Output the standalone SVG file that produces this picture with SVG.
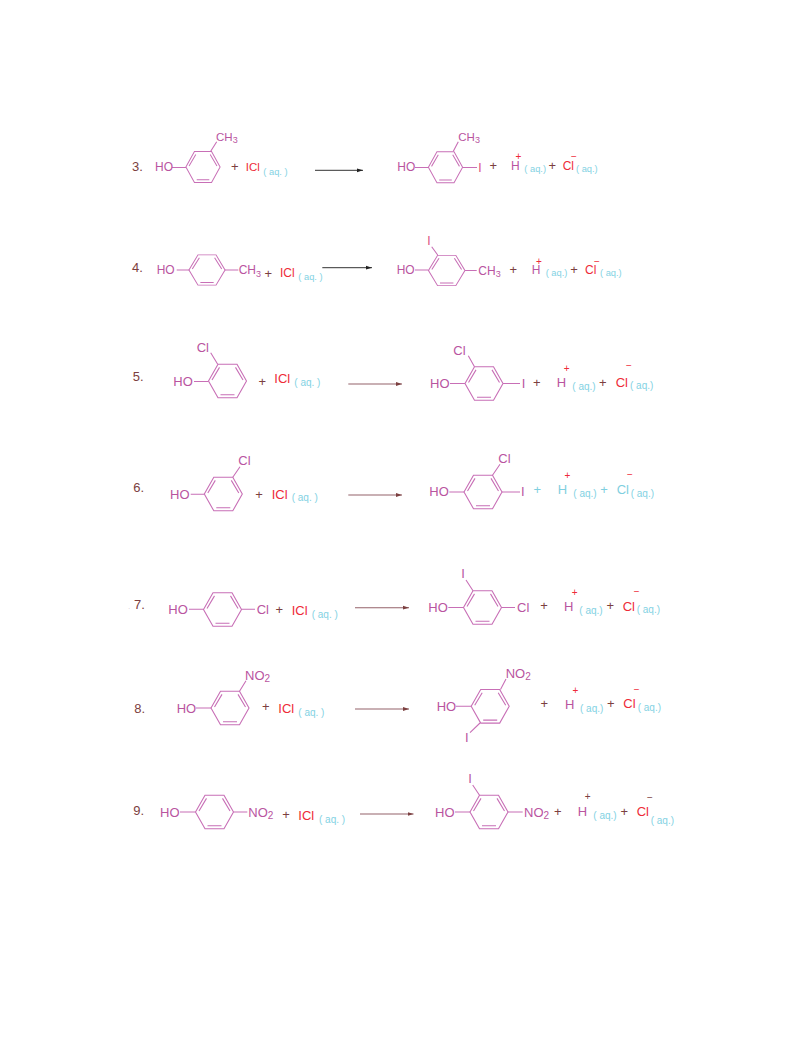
<svg xmlns="http://www.w3.org/2000/svg" xmlns:xlink="http://www.w3.org/1999/xlink" width="793" height="1057" viewBox="0 0 793 1057">
<style>
text{font-family:"Liberation Sans",Arial,sans-serif;font-size:13px;fill:#b9549f;transform:translateY(-.5px)}
.n{fill:#7c4040;font-size:13px}
.p{fill:#7c4040;font-size:13px;text-anchor:middle}
.r{fill:#ee2b38}
.aq{fill:#83d2e3;font-size:10px}
.aqs{font-size:9.3px}
.c{fill:#7fcfe0}
.sp{fill:#ee2b38;font-size:10px;text-anchor:middle}
.sd{fill:#7c4040;font-size:10px;text-anchor:middle}
.s{font-size:9px}
.s2{font-size:10px}
.b{stroke:#c86fb6;stroke-width:1.1;fill:none}
.ring{stroke:#c86fb6;stroke-width:1.1;fill:none}
.a{stroke:#94626a;stroke-width:1.1;fill:none;marker-end:url(#ah)}
.k{stroke:#333;stroke-width:1;marker-end:url(#ak)}
</style>
<defs>
<marker id="ah" markerUnits="userSpaceOnUse" markerWidth="7" markerHeight="5" refX="6" refY="2.5" orient="auto"><path d="M0 .6L6 2.5L0 4.4z" fill="#7c4040"/></marker>
<marker id="ak" markerUnits="userSpaceOnUse" markerWidth="7" markerHeight="5" refX="6" refY="2.5" orient="auto"><path d="M0 .6L6 2.5L0 4.4z" fill="#222"/></marker>
<g id="ring"><path class="ring" d="M-19 0L-9.5-16.8H9.5L19 0L9.5 16.8H-9.5ZM-15.5-1L-8-13.6M8-13.6L15.5-1M-7 13.8H7"/></g>
</defs>
<rect width="793" height="1057" fill="#fff"/>

<g id="connectors">
<line class="a k" x1="315" y1="170.3" x2="363" y2="170.3"/>
<line class="a k" x1="322.3" y1="267.7" x2="372" y2="267.7"/>
<line class="a" x1="348.3" y1="384" x2="402" y2="384"/>
<line class="a" x1="348.3" y1="495" x2="402" y2="495"/>
<line class="a" x1="355" y1="607.7" x2="409" y2="607.7"/>
<line class="a" x1="355" y1="709" x2="409" y2="709"/>
<line class="a" x1="360" y1="814" x2="413.5" y2="814"/>
</g>

<g id="r3">
<text class="n" x="132" y="171">3.</text>
<use xlink:href="#ring" href="#ring" transform="translate(203 167) scale(.9 .92)"/>
<path class="b" d="M172 167.5H186M210.7 151.3L216.7 141.7"/>
<text x="155" y="171.7" style="font-size:12px">HO</text>
<text x="216" y="141" style="font-size:11.5px">CH<tspan class="s" dy="2.5">3</tspan></text>
<text class="p" x="234.7" y="171">+</text>
<text class="r" x="245.7" y="171.7" style="font-size:11.5px">ICl</text>
<text class="aq aqs" x="263.3" y="175">( aq. )</text>
</g>
<g id="p3">
<use xlink:href="#ring" href="#ring" transform="translate(445.5 167.3) scale(.9 .92)"/>
<path class="b" d="M415 167.5H428.3M453.3 151.3L458.3 141.7M462.7 167.5H477"/>
<text x="397.3" y="171.7" style="font-size:12px">HO</text>
<text x="458.3" y="141" style="font-size:11.5px">CH<tspan class="s" dy="2.5">3</tspan></text>
<text x="478.3" y="172" style="font-size:12px;fill:#dc4f80">I</text>
<text class="p" x="493.3" y="170">+</text>
<text x="511" y="170" style="font-size:12px">H</text>
<text class="sp" x="518.3" y="160">+</text>
<text class="aq aqs" x="524.3" y="172.7">( aq.)</text>
<text class="p" x="552.3" y="170">+</text>
<text class="r" x="562.7" y="170" style="font-size:12px">Cl</text>
<text class="sp" x="574" y="160">−</text>
<text class="aq aqs" x="576" y="172">( aq.)</text>
</g>

<g id="r4">
<text class="n" x="132" y="272.7">4.</text>
<use xlink:href="#ring" href="#ring" transform="translate(207 270) scale(.95 .9)"/>
<path class="b" d="M176.7 270H189M225 270H238.3"/>
<text x="156.7" y="274.3" style="font-size:12px">HO</text>
<text x="238.7" y="274.5" style="font-size:12px">CH<tspan class="s" dy="2.5">3</tspan></text>
<text class="p" x="268.3" y="278">+</text>
<text class="r" x="280" y="277.7" style="font-size:12px">ICl</text>
<text class="aq aqs" x="298.3" y="280.7">( aq. )</text>
</g>
<g id="p4">
<use xlink:href="#ring" href="#ring" transform="translate(446.7 270.5) scale(.96 .9)"/>
<path class="b" d="M415 270H428.3M437.7 255L431.7 246.7M465 270.5H476.7"/>
<text x="396.7" y="274.7" style="font-size:12px">HO</text>
<text x="427.3" y="245.3" style="font-size:12px;fill:#dc4f80">I</text>
<text x="478.3" y="275.3" style="font-size:12px">CH<tspan class="s" dy="2.5">3</tspan></text>
<text class="p" x="513.3" y="274">+</text>
<text x="531.7" y="274.3" style="font-size:12px">H</text>
<text class="sp" x="539" y="265">+</text>
<text class="aq aqs" x="545.7" y="276.7">( aq.)</text>
<text class="p" x="574" y="274">+</text>
<text class="r" x="585" y="274" style="font-size:12px">Cl</text>
<text class="sp" x="597" y="265">−</text>
<text class="aq aqs" x="600" y="276">( aq.)</text>
</g>

<g id="r5">
<text class="n" x="132.7" y="381.7">5.</text>
<use xlink:href="#ring" href="#ring" transform="translate(227.5 381)"/>
<path class="b" d="M194 381.5H208.5M217.7 364.3L210.7 352.8"/>
<text x="173.3" y="386.7">HO</text>
<text x="196.7" y="352.7">Cl</text>
<text class="p" x="262.3" y="386">+</text>
<text class="r" x="274.3" y="383.3">ICl</text>
<text class="aq" x="294.3" y="386.7">( aq. )</text>
</g>
<g id="p5">
<use xlink:href="#ring" href="#ring" transform="translate(484 383.5)"/>
<path class="b" d="M450 383.5H465M474.5 366.7L468.3 355.7M503 383.5H520"/>
<text x="430" y="388.3">HO</text>
<text x="453.3" y="355">Cl</text>
<text x="521.7" y="388.3">I</text>
<text class="p" x="536.7" y="387">+</text>
<text x="556.7" y="387.3">H</text>
<text class="sp" x="566.7" y="372.5">+</text>
<text class="aq" x="572.3" y="390">( aq.)</text>
<text class="p" x="602.7" y="387">+</text>
<text class="r" x="615.7" y="387">Cl</text>
<text class="sp" x="629" y="369">−</text>
<text class="aq" x="630" y="389">( aq.)</text>
</g>

<g id="r6">
<text class="n" x="133.3" y="492.3">6.</text>
<use xlink:href="#ring" href="#ring" transform="translate(223.3 494)"/>
<path class="b" d="M190.7 494.3H204.3M232.8 477.2L240 466.7"/>
<text x="170" y="499">HO</text>
<text x="238.3" y="465.7">Cl</text>
<text class="p" x="259" y="499">+</text>
<text class="r" x="271.7" y="499">ICl</text>
<text class="aq" x="291.7" y="501.7">( aq. )</text>
</g>
<g id="p6">
<use xlink:href="#ring" href="#ring" transform="translate(483 492)"/>
<path class="b" d="M449.3 492H464M492.5 475.2L500 464.3M502 492H520"/>
<text x="429.3" y="496.7">HO</text>
<text x="498.3" y="463.3">Cl</text>
<text x="521" y="496.7">I</text>
<text class="p c" x="537.3" y="494">+</text>
<text class="c" x="557.7" y="494.3">H</text>
<text class="sp" x="567.3" y="479">+</text>
<text class="aq" x="573.3" y="497.7">( aq.)</text>
<text class="p c" x="604" y="494">+</text>
<text class="c" x="616.7" y="494.3">Cl</text>
<text class="sp" x="630" y="478">−</text>
<text class="aq" x="630.7" y="497">( aq.)</text>
</g>

<g id="r7">
<text class="n" x="128" y="609.3" fill-opacity=".35" style="font-size:8px">.</text>
<text class="n" x="134" y="609.3">7.</text>
<use xlink:href="#ring" href="#ring" transform="translate(222.5 609.5)"/>
<path class="b" d="M189 609.3H203.5M241.5 609.3H255"/>
<text x="168.3" y="614.3">HO</text>
<text x="256.7" y="614.3">Cl</text>
<text class="p" x="279.3" y="614.5">+</text>
<text class="r" x="291.7" y="615">ICl</text>
<text class="aq" x="311.7" y="618.3">( aq. )</text>
</g>
<g id="p7">
<use xlink:href="#ring" href="#ring" transform="translate(482.5 607.5)"/>
<path class="b" d="M448.3 607.5H463.5M473 590.7L466 580M501.5 607.5H515"/>
<text x="428.3" y="612.7">HO</text>
<text x="461.3" y="578.7">I</text>
<text x="517" y="612.7">Cl</text>
<text class="p" x="544" y="610">+</text>
<text x="564" y="611.7">H</text>
<text class="sp" x="574.7" y="596.5">+</text>
<text class="aq" x="579.3" y="614.3">( aq.)</text>
<text class="p" x="610.3" y="610">+</text>
<text class="r" x="622.7" y="611">Cl</text>
<text class="sp" x="636.7" y="595">−</text>
<text class="aq" x="636.7" y="613.5">( aq.)</text>
</g>

<g id="r8">
<text class="n" x="134.3" y="713.3">8.</text>
<use xlink:href="#ring" href="#ring" transform="translate(230 708)"/>
<path class="b" d="M196 708H211M239.5 691.2L246 680.7"/>
<text x="176.7" y="713.3">HO</text>
<text x="245" y="680">NO<tspan class="s2" dy="2.5">2</tspan></text>
<text class="p" x="265.7" y="711.5">+</text>
<text class="r" x="278.3" y="713.3">ICl</text>
<text class="aq" x="298.3" y="716.7">( aq. )</text>
</g>
<g id="p8">
<use xlink:href="#ring" href="#ring" transform="translate(490.2 706.3)"/>
<path class="b" d="M456 706.3H471.5M500.5 689.5L506 679M480 723L470 732.7"/>
<text x="436.7" y="711">HO</text>
<text x="505.7" y="678.3">NO<tspan class="s2" dy="2.5">2</tspan></text>
<text x="465" y="742.3">I</text>
<text class="p" x="544.3" y="708">+</text>
<text x="565" y="709">H</text>
<text class="sp" x="575.3" y="694">+</text>
<text class="aq" x="580" y="712.3">( aq.)</text>
<text class="p" x="610.7" y="708">+</text>
<text class="r" x="623.3" y="708.5">Cl</text>
<text class="sp" x="636.7" y="693">−</text>
<text class="aq" x="637.7" y="711.5">( aq.)</text>
</g>

<g id="r9">
<text class="n" x="133.3" y="815">9.</text>
<use xlink:href="#ring" href="#ring" transform="translate(214.5 812)"/>
<path class="b" d="M180 812H195.5M233.5 812H247.3"/>
<text x="160" y="817.3">HO</text>
<text x="248.3" y="817.3">NO<tspan class="s2" dy="2.5">2</tspan></text>
<text class="p" x="286" y="819">+</text>
<text class="r" x="298.3" y="820">ICl</text>
<text class="aq" x="319" y="823.3">( aq. )</text>
</g>
<g id="p9">
<use xlink:href="#ring" href="#ring" transform="translate(489 812)"/>
<path class="b" d="M455 812H470M479.5 795.2L472.7 785M508 812H522.7"/>
<text x="435" y="817.7">HO</text>
<text x="468.3" y="783.3">I</text>
<text x="524" y="817.3">NO<tspan class="s2" dy="2.5">2</tspan></text>
<text class="p" x="557.7" y="816">+</text>
<text x="577.7" y="816.7">H</text>
<text class="sd" x="587.7" y="800">+</text>
<text class="aq" x="593.3" y="819.3">( aq.)</text>
<text class="p" x="624.3" y="816">+</text>
<text class="r" x="636.7" y="816.7">Cl</text>
<text class="sd" x="650" y="801">−</text>
<text class="aq" x="650.7" y="824.3">( aq.)</text>
</g>
</svg>
